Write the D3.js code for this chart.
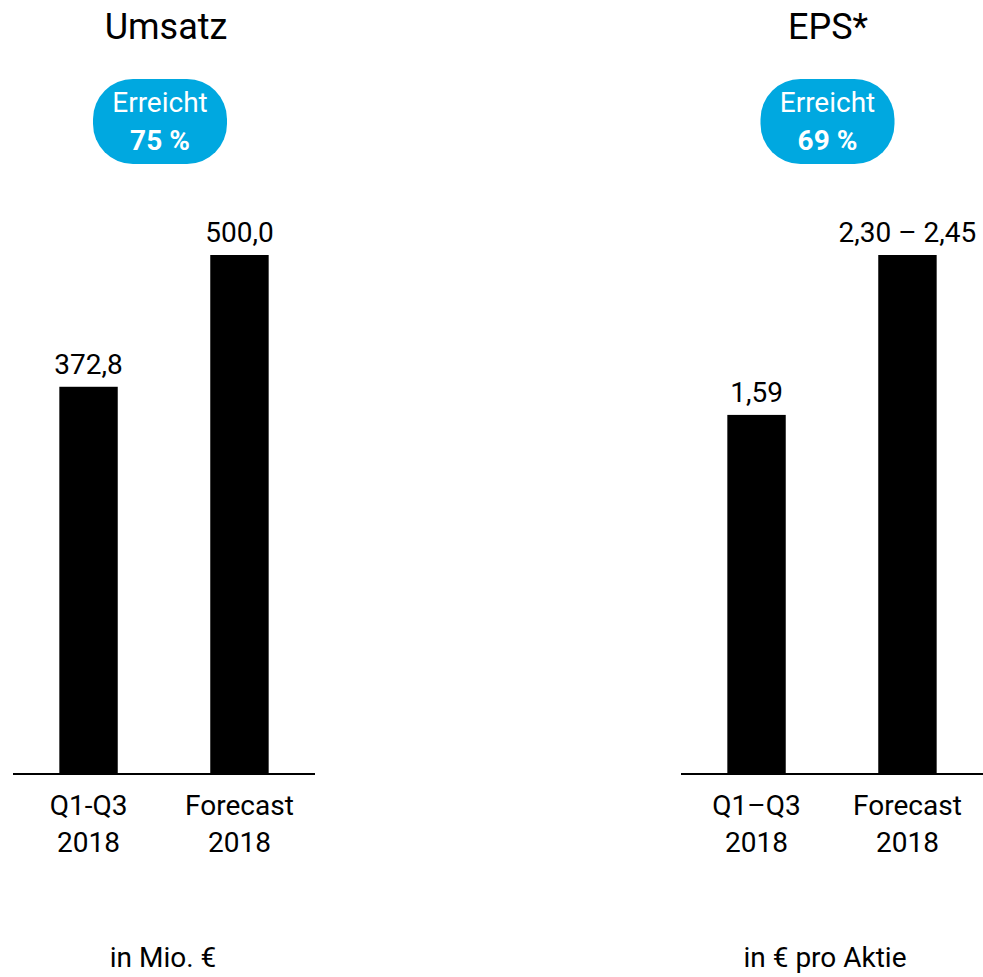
<!DOCTYPE html>
<html>
<head>
<meta charset="utf-8">
<script src="https://cdn.jsdelivr.net/npm/d3@7"></script>
<style>
  body { margin: 0; background: #fff; }
  svg { display: block; font-family: Roboto, "Noto Sans", sans-serif; }
</style>
</head>
<body>
<svg id="chart" width="983" height="977"></svg>
<script>
// data
const categoriesUmsatz = ["Q1-Q3\n2018", "Forecast\n2018"];
const valuesUmsatz = [372.8, 500.0];
const labelsUmsatz = ["372,8", "500,0"];

const categoriesEps = ["Q1\u2013Q3\n2018", "Forecast\n2018"];
const valuesEps = [1.59, 2.30];
const labelsEps = ["1,59", "2,30 \u2013 2,45"];

const panels = [
    { title: "Umsatz", badge: ["Erreicht", "75 %"], unit: "in Mio. \u20ac",
      categories: categoriesUmsatz, values: valuesUmsatz, labels: labelsUmsatz,
      x0: 13, x1: 315, cx: 166, bx: 160 },
    { title: "EPS*", badge: ["Erreicht", "69 %"], unit: "in \u20ac pro Aktie",
      categories: categoriesEps, values: valuesEps, labels: labelsEps,
      x0: 681, x1: 983, cx: 828, bx: 827.5 }
];

const baseY = 773;
const topY = 255;
const badgeColor = "#00a8e0";
const fs = 28;

const svg = d3.select("#chart");

panels.forEach(p => {
    const g = svg.append("g");

    const x = d3.scaleBand()
        .domain(p.categories)
        .range([p.x0, p.x1])
        .paddingInner(0.613)
        .paddingOuter(0.307);

    const y = d3.scaleLinear()
        .domain([0, d3.max(p.values)])
        .range([baseY, topY]);

    // title
    g.append("text")
        .attr("x", p.cx)
        .attr("y", 39)
        .attr("text-anchor", "middle")
        .attr("font-size", 36)
        .text(p.title);

    // badge
    g.append("rect")
        .attr("x", p.bx - 67)
        .attr("y", 79)
        .attr("width", 134)
        .attr("height", 85)
        .attr("rx", 40)
        .attr("fill", badgeColor);

    g.append("text")
        .attr("x", p.bx)
        .attr("y", 112)
        .attr("text-anchor", "middle")
        .attr("font-size", fs)
        .attr("fill", "#fff")
        .text(p.badge[0]);

    g.append("text")
        .attr("x", p.bx)
        .attr("y", 150)
        .attr("text-anchor", "middle")
        .attr("font-size", fs)
        .attr("font-weight", "bold")
        .attr("fill", "#fff")
        .text(p.badge[1]);

    // bars
    g.selectAll("rect.bar")
        .data(p.values)
        .join("rect")
        .attr("class", "bar")
        .attr("x", (d, i) => x(p.categories[i]))
        .attr("y", d => y(d))
        .attr("width", x.bandwidth())
        .attr("height", d => baseY - y(d))
        .attr("fill", "#000");

    // value labels
    g.selectAll("text.val")
        .data(p.values)
        .join("text")
        .attr("class", "val")
        .attr("x", (d, i) => x(p.categories[i]) + x.bandwidth() / 2)
        .attr("y", d => y(d) - 13)
        .attr("text-anchor", "middle")
        .attr("font-size", fs)
        .text((d, i) => p.labels[i]);

    // baseline
    g.append("line")
        .attr("x1", p.x0)
        .attr("x2", p.x1)
        .attr("y1", baseY + 1)
        .attr("y2", baseY + 1)
        .attr("stroke", "#000")
        .attr("stroke-width", 2);

    // category labels
    p.categories.forEach(c => {
        const t = g.append("text")
            .attr("text-anchor", "middle")
            .attr("font-size", fs);
        c.split("\n").forEach((line, j) => {
            t.append("tspan")
                .attr("x", x(c) + x.bandwidth() / 2)
                .attr("y", 815 + j * 37)
                .text(line);
        });
    });

    // unit
    g.append("text")
        .attr("x", p.cx - 3)
        .attr("y", 967)
        .attr("text-anchor", "middle")
        .attr("font-size", fs)
        .text(p.unit);
});
</script>
</body>
</html>
